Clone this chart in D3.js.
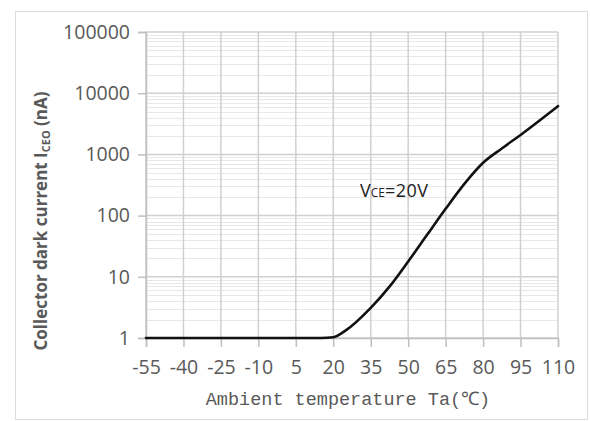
<!DOCTYPE html>
<html><head><meta charset="utf-8">
<script src="https://cdn.jsdelivr.net/npm/d3@7"></script>
<style>
html,body{margin:0;padding:0;background:#fff;}
svg{display:block;}
</style></head>
<body>
<svg id="c" width="590" height="421"></svg>
<script>
// ---- data ----
const xTicks = [-55,-40,-25,-10,5,20,35,50,65,80,95,110];
const yTicks = [1,10,100,1000,10000,100000];
const temps  = [-55,-40,-25,-10,5,15,20,25,35,42.5,50,57.5,65,72.5,80,87.5,95,102.5,110];
const iceo   = [1,1,1,1,1,1,1.03,1.33,3.1,6.9,17.8,48,129,330,730,1250,2080,3550,6150];
const seriesLabel = "=20V";

// ---- layout ----
const svg = d3.select("#c");
const L = 146, R = 558, T = 32, B = 338;

svg.append("rect").attr("x",15.5).attr("y",11.5).attr("width",572).attr("height",408)
  .attr("fill","#fff").attr("stroke","#dcdcdc").attr("stroke-width",1);

const x = d3.scaleLinear().domain([-55,110]).range([L,R]);
const y = d3.scaleLog().domain([1,100000]).range([B,T]);

const g = svg.append("g");

// minor horizontal grid
const minors = [];
for (let d = 1; d < 100000; d *= 10) for (let k = 2; k <= 9; k++) minors.push(d*k);
g.selectAll(".mh").data(minors).enter().append("line")
  .attr("x1",L).attr("x2",R)
  .attr("y1",d=>Math.round(y(d))+0.5).attr("y2",d=>Math.round(y(d))+0.5)
  .attr("stroke","#e8e8e8").attr("stroke-width",1);

// major horizontal grid
g.selectAll(".Mh").data(yTicks).enter().append("line")
  .attr("x1",L).attr("x2",R)
  .attr("y1",d=>y(d)).attr("y2",d=>y(d))
  .attr("stroke","#d0d0d0").attr("stroke-width",1.5);

// vertical grid
g.selectAll(".v").data(xTicks).enter().append("line")
  .attr("x1",d=>x(d)).attr("x2",d=>x(d))
  .attr("y1",T).attr("y2",B)
  .attr("stroke","#d0d0d0").attr("stroke-width",1.5);

// axes
const yAxis = d3.axisLeft(y).tickValues(yTicks).tickFormat(d3.format("d")).tickSize(8).tickPadding(8);
const xAxis = d3.axisBottom(x).tickValues(xTicks).tickFormat(d=>String(d)).tickSize(9).tickPadding(8);

const ya = svg.append("g").attr("transform",`translate(${L},0)`).call(yAxis);
const xa = svg.append("g").attr("transform",`translate(0,${B})`).call(xAxis);
[ya,xa].forEach(a=>{
  a.select(".domain").attr("stroke","#bfbfbf").attr("stroke-width",1.5);
  a.selectAll(".tick line").attr("stroke","#bfbfbf").attr("stroke-width",1.5);
  a.selectAll("text").attr("fill","#595959")
    .style("font-family","'Open Sans', sans-serif").style("font-size","19.5px");
});
xa.selectAll("text").attr("dy","0.95em");

// curve
const line = d3.line().x(d=>x(d[0])).y(d=>y(d[1])).curve(d3.curveMonotoneX);
svg.append("path").datum(temps.map((t,i)=>[t,iceo[i]]))
  .attr("d",line).attr("fill","none").attr("stroke","#111").attr("stroke-width",2.6)
  .attr("stroke-linejoin","round").attr("stroke-linecap","round");

// series label
const lab = svg.append("text").attr("x",360).attr("y",197)
  .style("font-family","'Open Sans', sans-serif").attr("fill","#222");
lab.append("tspan").style("font-size","18px").text("V");
lab.append("tspan").style("font-size","12px").text("CE");
lab.append("tspan").style("font-size","18px").attr("letter-spacing","0.5").text(seriesLabel);

// y title
const yt = svg.append("text").attr("transform","translate(47,221) rotate(-90)")
  .attr("text-anchor","middle").attr("fill","#595959")
  .style("font-family","'Open Sans', sans-serif").style("font-size","17px").style("font-weight","bold");
yt.append("tspan").text("Collector dark current I");
yt.append("tspan").style("font-size","11px").attr("dy","3").text("CEO");
yt.append("tspan").attr("dy","-3").text(" (nA)");

// x title
svg.append("text").attr("x",348).attr("y",405).attr("text-anchor","middle")
  .attr("fill","#595959")
  .style("font-family","'Liberation Mono', monospace").style("font-size","18.5px")
  .text("Ambient temperature Ta(℃)");
</script>
</body></html>
